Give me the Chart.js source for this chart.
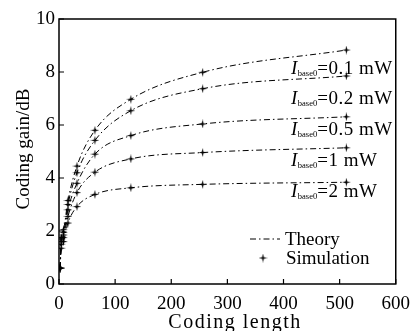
<!DOCTYPE html>
<html>
<head>
<meta charset="utf-8">
<script src="https://cdn.jsdelivr.net/npm/chart.js@4"></script>
<style>
html,body{margin:0;padding:0;background:#fff;}
#wrap{width:419px;height:331px;}
</style>
</head>
<body>
<div id="wrap"><canvas id="grafico"></canvas></div>
<script>
// data
const codingLength = [2, 4, 8, 16, 32, 64, 128, 256, 512];
const gain01 = [0.6, 1.75, 2.05, 3.15, 4.45, 5.8, 6.97, 7.99, 8.83];
const gain02 = [0.6, 1.7, 1.95, 3.0, 4.2, 5.42, 6.54, 7.37, 7.85];
const gain05 = [0.6, 1.6, 1.85, 2.8, 3.8, 4.9, 5.6, 6.04, 6.31];
const gain1 = [0.6, 1.5, 1.75, 2.55, 3.45, 4.22, 4.72, 4.96, 5.14];
const gain2 = [0.6, 1.35, 1.6, 2.3, 2.92, 3.38, 3.63, 3.76, 3.84];
const powerLabels = ["0.1 mW", "0.2 mW", "0.5 mW", "1 mW", "2 mW"];
const xTicks = [0, 100, 200, 300, 400, 500, 600];
const yTicks = [0, 2, 4, 6, 8, 10];

const serif = "'Liberation Serif', 'Times New Roman', serif";
const dashDot = [6, 3, 1.5, 3];

// small 4 point star used as the simulation marker
function makeStar(size){
  const c = document.createElement("canvas");
  c.width = size; c.height = size;
  const g = c.getContext("2d");
  const m = size/2, r = size/2, ri = 1.2;
  g.beginPath();
  for(let i=0;i<8;i++){
    const a = i*Math.PI/4 - Math.PI/2;
    const rr = i%2===0 ? r : ri;
    g.lineTo(m + rr*Math.cos(a), m + rr*Math.sin(a));
  }
  g.closePath();
  g.fillStyle = "#000";
  g.fill();
  return c;
}
const star = makeStar(9);

const series = [gain01, gain02, gain05, gain1, gain2];
const datasets = series.map((s, i) => ({
  label: powerLabels[i],
  data: codingLength.map((x, j) => ({x: x, y: s[j]})),
  borderColor: "#000",
  borderWidth: 1,
  borderDash: dashDot,
  pointStyle: star,
  pointRadius: 4,
  cubicInterpolationMode: "monotone",
  fill: false
}));

// frame, inward ticks, axis titles, curve labels and legend
const extras = {
  id: "extras",
  afterDraw(chart){
    const ctx = chart.ctx;
    const a = chart.chartArea;
    const xs = chart.scales.x, ys = chart.scales.y;
    ctx.save();
    ctx.strokeStyle = "#000";
    ctx.lineWidth = 1.5;
    ctx.strokeRect(a.left, a.top, a.right - a.left, a.bottom - a.top);
    ctx.lineWidth = 1.2;
    ctx.beginPath();
    xTicks.forEach(v => {
      const p = xs.getPixelForValue(v);
      ctx.moveTo(p, a.bottom); ctx.lineTo(p, a.bottom - 5);
    });
    yTicks.forEach(v => {
      const p = ys.getPixelForValue(v);
      ctx.moveTo(a.left, p); ctx.lineTo(a.left + 5, p);
    });
    ctx.stroke();

    ctx.fillStyle = "#000";
    ctx.textBaseline = "alphabetic";

    // axis titles
    ctx.font = "20px " + serif;
    ctx.letterSpacing = "1.5px";
    ctx.textAlign = "center";
    ctx.fillText("Coding length", 235, 328);
    ctx.letterSpacing = "0px";
    ctx.font = "19px " + serif;
    ctx.save();
    ctx.translate(28.5, 149);
    ctx.rotate(-Math.PI/2);
    ctx.fillText("Coding gain/dB", 0, 0);
    ctx.restore();
    ctx.textAlign = "left";

    // I_base0 labels
    const labelY = [74, 104, 135, 166, 197];
    powerLabels.forEach((t, i) => {
      let x = 291;
      const y = labelY[i];
      ctx.letterSpacing = "0px";
      ctx.font = "italic 19px " + serif;
      ctx.fillText("I", x, y);
      x += ctx.measureText("I").width + 0.5;
      ctx.font = "8.5px " + serif;
      ctx.fillText("base0", x, y + 2);
      x += ctx.measureText("base0").width;
      ctx.font = "19px " + serif;
      ctx.letterSpacing = "0.5px";
      ctx.fillText("=" + t, x, y);
    });
    ctx.letterSpacing = "0px";

    // legend
    ctx.font = "19px " + serif;
    ctx.lineWidth = 1;
    ctx.setLineDash(dashDot);
    ctx.beginPath();
    ctx.moveTo(250, 239); ctx.lineTo(280, 239);
    ctx.stroke();
    ctx.setLineDash([]);
    ctx.fillText("Theory", 285, 245);
    ctx.drawImage(star, 263 - 4.5, 258 - 4.5);
    ctx.fillText("Simulation", 286, 264);
    ctx.restore();
  }
};

new Chart(document.getElementById("grafico"), {
  type: "line",
  data: {datasets: datasets},
  plugins: [extras],
  options: {
    responsive: true,
    maintainAspectRatio: false,
    animation: false,
    layout: {padding: {left: 0, top: 19, right: 19, bottom: 0}},
    plugins: {legend: {display: false}, tooltip: {enabled: false}},
    scales: {
      x: {
        type: "linear",
        min: 0, max: 600,
        afterBuildTicks: s => { s.ticks = xTicks.map(v => ({value: v})); },
        afterFit: s => { s.height = 47; },
        grid: {display: false, drawTicks: false},
        border: {display: false},
        ticks: {color: "#000", font: {family: serif, size: 19}, padding: 9, maxRotation: 0}
      },
      y: {
        type: "linear",
        min: 0, max: 10,
        afterBuildTicks: s => { s.ticks = yTicks.map(v => ({value: v})); },
        afterFit: s => { s.width = 59; },
        grid: {display: false, drawTicks: false},
        border: {display: false},
        ticks: {color: "#000", font: {family: serif, size: 19}, padding: 4}
      }
    }
  }
});
</script>
</body>
</html>
